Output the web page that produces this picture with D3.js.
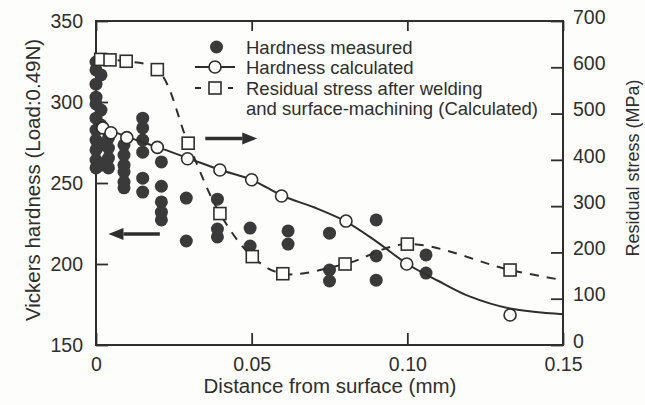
<!DOCTYPE html>
<html>
<head>
<meta charset="utf-8">
<script src="https://cdn.jsdelivr.net/npm/d3@7"></script>
<style>
  html, body { margin: 0; padding: 0; background: #fdfdfc; }
  svg { display: block; font-family: "Liberation Sans", Arial, sans-serif; }
</style>
</head>
<body>
<div id="chart"></div>
<script>
// ----------------------------------------------- //
// Data
// Hardness measured (filled dots), x in mm, HV
var measuredX = [0, 0, 0, 0, 0, 0, 0, 0, 0, 0, 0,
    0.0016, 0.0016, 0.0016, 0.0016, 0.0016,
    0.004, 0.004, 0.004, 0.004,
    0.009, 0.009, 0.009, 0.009, 0.009, 0.009,
    0.015, 0.015, 0.015, 0.015, 0.015, 0.015,
    0.021, 0.021, 0.021, 0.021, 0.021,
    0.029, 0.029,
    0.039, 0.039, 0.039,
    0.0495, 0.0495,
    0.0617, 0.0617,
    0.075, 0.075, 0.075,
    0.09, 0.09, 0.09,
    0.106, 0.106];
var measuredHV = [324.7, 319.8, 311, 303, 298.8, 290, 282.7, 276.5, 270.4, 264.2, 259.3,
    316.7, 295, 285.8, 273.5, 261,
    277.8, 271.6, 265.4, 259.3,
    273.5, 267.3, 261, 256.8, 250.6, 247,
    290, 284, 276.5, 269, 253, 244.4,
    263, 248, 238.3, 232, 227.2,
    240.7, 214.2,
    240, 221.6, 216.7,
    222.2, 211.1,
    220.4, 212.3,
    219, 196.3, 189.5,
    227.2, 205, 190,
    205.6, 194.4];

// Hardness calculated (open circles)
var calcX = [0.0022, 0.0048, 0.0099, 0.0197, 0.0294, 0.0398, 0.05, 0.0596, 0.0803, 0.0998, 0.133];
var calcHV = [284, 281, 278, 272, 265, 258, 252, 242, 226.5, 200, 168.5];

// Hardness calculated (solid curve)
var curveX = [0, 0.01, 0.02, 0.03, 0.04, 0.05, 0.06, 0.07, 0.08, 0.09, 0.1, 0.11, 0.12, 0.133, 0.15];
var curveHV = [286, 278.5, 272, 265, 258, 252, 242, 235, 226.5, 214, 200, 189.5, 180, 172.5, 169];

// Residual stress (open squares, dashed curve), MPa
var stressX = [0.0015, 0.0045, 0.0097, 0.0197, 0.0296, 0.0398, 0.0502, 0.06, 0.08, 0.1, 0.133];
var stressMPa = [617, 616, 613, 595, 436, 284, 191, 154, 175, 218, 162];
var stressLineX = [0.0015, 0.0045, 0.0097, 0.0197, 0.0296, 0.0398, 0.0502, 0.06, 0.08, 0.1, 0.133, 0.15];
var stressLineMPa = [617, 616, 613, 595, 436, 284, 191, 154, 175, 218, 162, 140];

// Tick labels
var xTicks = [0, 0.05, 0.1, 0.15];
var xTickLabels = ["0", "0.05", "0.10", "0.15"];
var leftTicks = [150, 200, 250, 300, 350];
var rightTicks = [0, 100, 200, 300, 400, 500, 600, 700];

var legendLabels = ["Hardness measured", "Hardness calculated",
    "Residual stress after welding", "and surface-machining (Calculated)"];

// ----------------------------------------------- //
var svgWidth = 645;
var svgHeight = 405;
var plot = { left: 96, right: 563, top: 21, bottom: 345 };
var ink = "#2e2e2e";

var svg = d3.select("#chart")
    .append("svg")
    .attr("width", svgWidth)
    .attr("height", svgHeight);

var xScale = d3.scaleLinear().domain([0, 0.15]).range([plot.left, plot.right]);
var yLeft = d3.scaleLinear().domain([150, 350]).range([plot.bottom, plot.top]);
var yRight = d3.scaleLinear().domain([0, 700]).range([plot.bottom, plot.top]);

// ----------------------------------------------- //
// Axes (inward ticks)
function styleAxis(g, size) {
    g.select(".domain").remove();
    g.selectAll(".tick line").attr("stroke", ink).attr("stroke-width", 1.8);
    g.selectAll(".tick text").attr("fill", ink).attr("font-size", size);
}

svg.append("g")
    .attr("transform", `translate(${plot.left},0)`)
    .call(d3.axisLeft(yLeft).tickValues(leftTicks).tickSizeInner(-12).tickSizeOuter(0).tickPadding(13))
    .call(g => styleAxis(g, 19.5));

// right labels sit a little above their ticks in the original
svg.append("g")
    .attr("transform", `translate(${plot.right},0)`)
    .call(d3.axisRight(yRight).tickValues(rightTicks).tickSizeInner(-12).tickSizeOuter(0).tickPadding(10))
    .call(g => styleAxis(g, 19.5))
    .call(g => g.selectAll(".tick text").attr("y", -4));

svg.append("g")
    .attr("transform", `translate(0,${plot.bottom})`)
    .call(d3.axisBottom(xScale).tickValues(xTicks).tickSizeInner(-12).tickSizeOuter(0).tickPadding(12)
        .tickFormat((d, i) => xTickLabels[i]))
    .call(g => styleAxis(g, 19.5));

svg.append("g")
    .attr("transform", `translate(0,${plot.top})`)
    .call(d3.axisTop(xScale).tickValues(xTicks).tickSizeInner(-10).tickSizeOuter(0).tickFormat(""))
    .call(g => styleAxis(g, 19.5));

// Frame
svg.append("rect")
    .attr("x", plot.left)
    .attr("y", plot.top)
    .attr("width", plot.right - plot.left)
    .attr("height", plot.bottom - plot.top)
    .attr("fill", "none")
    .attr("stroke", ink)
    .attr("stroke-width", 2);

// Axis titles
svg.append("text")
    .attr("transform", `translate(40,180) rotate(-90)`)
    .attr("text-anchor", "middle")
    .attr("font-size", 20.5)
    .attr("fill", ink)
    .text("Vickers hardness (Load:0.49N)");

svg.append("text")
    .attr("transform", `translate(639,168) rotate(-90)`)
    .attr("text-anchor", "middle")
    .attr("font-size", 18)
    .attr("fill", ink)
    .text("Residual stress (MPa)");

svg.append("text")
    .attr("x", 330)
    .attr("y", 393)
    .attr("text-anchor", "middle")
    .attr("font-size", 20.5)
    .attr("fill", ink)
    .text("Distance from surface (mm)");

// ----------------------------------------------- //
// Measured hardness dots
var measured = measuredX.map((d, i) => ({ x: d, y: measuredHV[i] }));
svg.append("g").selectAll("circle")
    .data(measured)
    .enter()
    .append("circle")
    .attr("cx", d => xScale(d.x))
    .attr("cy", d => yLeft(d.y))
    .attr("r", 6.5)
    .attr("fill", "#3a3a3a");

// Residual stress dashed curve
var stressLine = stressLineX.map((d, i) => ({ x: d, y: stressLineMPa[i] }));
svg.append("path")
    .datum(stressLine)
    .attr("fill", "none")
    .attr("stroke", ink)
    .attr("stroke-width", 2)
    .attr("stroke-dasharray", "9,8")
    .attr("d", d3.line().x(d => xScale(d.x)).y(d => yRight(d.y)).curve(d3.curveCatmullRom));

// Calculated hardness curve
var calcCurve = curveX.map((d, i) => ({ x: d, y: curveHV[i] }));
svg.append("path")
    .datum(calcCurve)
    .attr("fill", "none")
    .attr("stroke", ink)
    .attr("stroke-width", 2)
    .attr("d", d3.line().x(d => xScale(d.x)).y(d => yLeft(d.y)).curve(d3.curveCatmullRom));

// Residual stress squares
var stress = stressX.map((d, i) => ({ x: d, y: stressMPa[i] }));
svg.append("g").selectAll("rect")
    .data(stress)
    .enter()
    .append("rect")
    .attr("x", d => xScale(d.x) - 6)
    .attr("y", d => yRight(d.y) - 6)
    .attr("width", 12)
    .attr("height", 12)
    .attr("fill", "#fdfdfc")
    .attr("stroke", ink)
    .attr("stroke-width", 1.6);

// Calculated hardness open circles
var calc = calcX.map((d, i) => ({ x: d, y: calcHV[i] }));
svg.append("g").selectAll("circle")
    .data(calc)
    .enter()
    .append("circle")
    .attr("cx", d => xScale(d.x))
    .attr("cy", d => yLeft(d.y))
    .attr("r", 6)
    .attr("fill", "#fdfdfc")
    .attr("stroke", ink)
    .attr("stroke-width", 1.6);

// ----------------------------------------------- //
// Arrows pointing to each axis
function arrow(x1, x2, y, dir) {
    var head = 15, half = 6;
    var tip = dir < 0 ? x1 : x2;
    var tail = dir < 0 ? x2 : x1;
    var base = tip - dir * head;
    svg.append("line")
        .attr("x1", tail).attr("x2", base)
        .attr("y1", y).attr("y2", y)
        .attr("stroke", ink).attr("stroke-width", 3.5);
    svg.append("path")
        .attr("d", `M${tip},${y} L${base},${y - half} L${base},${y + half} Z`)
        .attr("fill", ink);
}
arrow(xScale(0.004), xScale(0.0205), yLeft(218.5), -1);
arrow(xScale(0.0351), xScale(0.0518), yRight(446), 1);

// ----------------------------------------------- //
// Legend
var legend = svg.append("g");
var rowY = [47, 67, 88, 108.5];
var legendX = 246;

legend.selectAll("text")
    .data(legendLabels)
    .enter()
    .append("text")
    .attr("x", legendX)
    .attr("y", (d, i) => rowY[i] + 6.5)
    .attr("font-size", 18.5)
    .attr("fill", ink)
    .text(d => d);

legend.append("circle")
    .attr("cx", 216.5).attr("cy", rowY[0]).attr("r", 6.5)
    .attr("fill", "#3a3a3a");

legend.append("line")
    .attr("x1", 195).attr("x2", 235)
    .attr("y1", rowY[1]).attr("y2", rowY[1])
    .attr("stroke", ink).attr("stroke-width", 2);
legend.append("circle")
    .attr("cx", 215).attr("cy", rowY[1]).attr("r", 6)
    .attr("fill", "#fdfdfc").attr("stroke", ink).attr("stroke-width", 1.6);

legend.append("line")
    .attr("x1", 195).attr("x2", 201)
    .attr("y1", rowY[2]).attr("y2", rowY[2])
    .attr("stroke", ink).attr("stroke-width", 2);
legend.append("line")
    .attr("x1", 228).attr("x2", 233)
    .attr("y1", rowY[2]).attr("y2", rowY[2])
    .attr("stroke", ink).attr("stroke-width", 2);
legend.append("rect")
    .attr("x", 209).attr("y", rowY[2] - 6)
    .attr("width", 12).attr("height", 12)
    .attr("fill", "#fdfdfc").attr("stroke", ink).attr("stroke-width", 1.6);
</script>
</body>
</html>
